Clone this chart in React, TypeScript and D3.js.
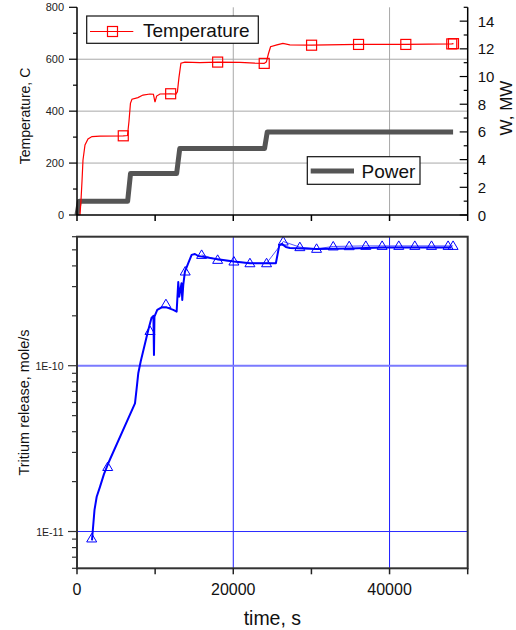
import React, { useEffect, useRef } from 'react';
import * as d3 from 'd3';

// temperature, C (red)
const tempTime = [384, 512, 640, 767, 1023, 1407, 1919, 2942, 5922, 6460, 6650, 6840, 7035, 7800, 8440, 9340, 9780, 9980, 10190, 10620, 11985, 12660, 12850, 13050, 13300, 13810, 15730, 18000, 20850, 22770, 23960, 24240, 24490, 24770, 25580, 26350, 27240, 30020, 36030, 42080, 47960, 48180];
const tempValue = [0, 58, 130, 212, 270, 293, 302, 304, 305, 306, 360, 430, 446, 452, 462, 466, 465, 435, 458, 466, 467, 466, 475, 530, 585, 589, 587, 589, 588, 585, 584, 590, 620, 648, 655, 661, 655, 654, 657, 657, 659, 660];
const tempMarkTime = [5922, 11985, 18000, 23960, 30020, 36030, 42080, 47960, 48180];
const tempMarkValue = [305, 467, 589, 584, 654, 657, 657, 659, 660];

// power, MW (grey)
const powerTime = [0, 300, 6480, 6850, 12750, 13150, 24000, 24350, 48130];
const powerValue = [0, 1, 1, 3, 3, 4.8, 4.8, 6, 6];

// tritium release, mole/s (blue)
const tritiumTime = [1920, 2010, 2240, 2520, 2940, 3450, 4000, 7420, 7610, 7840, 8150, 9120, 9530, 9780, 9850, 9910, 10270, 10830, 11470, 12320, 12750, 12960, 13080, 13370, 13470, 13600, 13810, 14240, 14670, 15090, 15510, 15990, 18000, 20080, 22130, 25450, 25900, 26220, 26730, 27240, 30660, 34920, 39180, 47920];
const tritiumValue = [8.85e-12, 1.0e-11, 1.35e-11, 1.62e-11, 1.86e-11, 2.22e-11, 2.58e-11, 5.93e-11, 7.13e-11, 9.0e-11, 1.06e-10, 1.64e-10, 1.94e-10, 2.0e-10, 1.16e-10, 1.98e-10, 2.17e-10, 2.25e-10, 2.25e-10, 2.17e-10, 2.12e-10, 3.2e-10, 2.61e-10, 3.14e-10, 2.49e-10, 3.07e-10, 3.7e-10, 4.15e-10, 4.66e-10, 4.72e-10, 4.59e-10, 4.55e-10, 4.39e-10, 4.25e-10, 4.15e-10, 4.15e-10, 5.36e-10, 5.43e-10, 5.2e-10, 5.13e-10, 5.05e-10, 5.1e-10, 5.16e-10, 5.16e-10];
const triTime = [1880, 3930, 9340, 11380, 13850, 15950, 18000, 20080, 22130, 24260, 26390, 28520, 30660, 32790, 34830, 36960, 39050, 41180, 43230, 45370, 47490, 48130];
const triValue = [9.08e-12, 2.45e-11, 1.62e-10, 2.35e-10, 3.7e-10, 4.66e-10, 4.35e-10, 4.25e-10, 4.15e-10, 4.15e-10, 5.61e-10, 5.19e-10, 5.07e-10, 5.24e-10, 5.26e-10, 5.28e-10, 5.28e-10, 5.28e-10, 5.28e-10, 5.28e-10, 5.28e-10, 5.28e-10];

const timeTicks = [0, 10000, 20000, 30000, 40000, 50000];
const timeLabels = [0, 20000, 40000];
const timeGrid = [20000, 40000];
const tempTicks = [0, 200, 400, 600, 800];
const tempMinor = [100, 300, 500, 700];
const tempGrid = [200, 400, 600];
const powerTicks = [0, 2, 4, 6, 8, 10, 12, 14];
const powerMinor = [1, 3, 5, 7, 9, 11, 13, 15];
const releaseTicks = [1e-11, 1e-10];
const releaseLabels = ['1E-11', '1E-10'];

const FONT = "'Liberation Sans', Arial, sans-serif";

const App: React.FC = () => {
  const svgRef = useRef<SVGSVGElement>(null);

  useEffect(() => {
    if (!svgRef.current) return;
    const svg = d3.select(svgRef.current);
    svg.selectAll('*').remove();
    svg.attr('font-family', FONT);

    const left = 77, right = 467.7;
    const topY0 = 215, topY1 = 7.3;
    const botY0 = 568.3, botY1 = 236.7;

    const x = d3.scaleLinear().domain([0, 50000]).range([left, right]);
    const yT = d3.scaleLinear().domain([0, 800]).range([topY0, topY1]);
    const yP = d3.scaleLinear().domain([0, 15]).range([topY0, topY1]);
    const yR = d3.scaleLog().domain([6e-12, 6e-10]).range([botY0, botY1]);

    // ---------- top panel ----------
    const top = svg.append('g');

    // grid
    top.selectAll('.hgrid').data(tempGrid).enter().append('line')
      .attr('x1', left).attr('x2', right)
      .attr('y1', d => yT(d)).attr('y2', d => yT(d))
      .attr('stroke', '#a8a8a8').attr('stroke-width', 1);
    top.selectAll('.vgrid').data(timeGrid).enter().append('line')
      .attr('x1', d => x(d)).attr('x2', d => x(d))
      .attr('y1', topY1).attr('y2', topY0)
      .attr('stroke', '#a8a8a8').attr('stroke-width', 1);

    // power
    const powerLine = d3.line<number>()
      .x((d, i) => x(powerTime[i]))
      .y(d => yP(d));
    top.append('path')
      .attr('d', powerLine(powerValue))
      .attr('fill', 'none').attr('stroke', '#555555').attr('stroke-width', 5)
      .attr('stroke-linejoin', 'round');

    // temperature
    const tempLine = d3.line<number>()
      .x((d, i) => x(tempTime[i]))
      .y(d => yT(d));
    top.append('path')
      .attr('d', tempLine(tempValue))
      .attr('fill', 'none').attr('stroke', '#ff0000').attr('stroke-width', 1.2);
    top.selectAll('.tmark').data(tempMarkValue).enter().append('rect')
      .attr('x', (d, i) => x(tempMarkTime[i]) - 5)
      .attr('y', d => yT(d) - 5)
      .attr('width', 10).attr('height', 10)
      .attr('fill', 'none').attr('stroke', '#ff0000').attr('stroke-width', 1.2);

    // axes
    top.append('line').attr('x1', left).attr('x2', left).attr('y1', topY1).attr('y2', topY0)
      .attr('stroke', '#000').attr('stroke-width', 1.5);
    top.append('line').attr('x1', right).attr('x2', right).attr('y1', topY1).attr('y2', topY0)
      .attr('stroke', '#000').attr('stroke-width', 1.5);
    top.append('line').attr('x1', left).attr('x2', right).attr('y1', topY0).attr('y2', topY0)
      .attr('stroke', '#000').attr('stroke-width', 1.5);

    top.selectAll('.tt').data(timeTicks).enter().append('line')
      .attr('x1', d => x(d)).attr('x2', d => x(d))
      .attr('y1', topY0).attr('y2', topY0 + 6)
      .attr('stroke', '#000').attr('stroke-width', 1.5);

    top.selectAll('.lt').data(tempTicks).enter().append('line')
      .attr('x1', left - 8).attr('x2', left)
      .attr('y1', d => yT(d)).attr('y2', d => yT(d))
      .attr('stroke', '#000').attr('stroke-width', 1.2);
    top.selectAll('.lm').data(tempMinor).enter().append('line')
      .attr('x1', left - 4).attr('x2', left)
      .attr('y1', d => yT(d)).attr('y2', d => yT(d))
      .attr('stroke', '#000').attr('stroke-width', 1.2);
    top.selectAll('.ll').data(tempTicks).enter().append('text')
      .attr('x', left - 13).attr('y', d => yT(d) + 4)
      .attr('text-anchor', 'end').attr('font-size', 11).attr('fill', '#222')
      .text(d => d);

    top.selectAll('.rt').data(powerTicks).enter().append('line')
      .attr('x1', right - 8).attr('x2', right)
      .attr('y1', d => yP(d)).attr('y2', d => yP(d))
      .attr('stroke', '#000').attr('stroke-width', 1.2);
    top.selectAll('.rm').data(powerMinor).enter().append('line')
      .attr('x1', right - 4).attr('x2', right)
      .attr('y1', d => yP(d)).attr('y2', d => yP(d))
      .attr('stroke', '#000').attr('stroke-width', 1.2);
    top.selectAll('.rl').data(powerTicks).enter().append('text')
      .attr('x', right + 10).attr('y', d => yP(d) + 5.5)
      .attr('text-anchor', 'start').attr('font-size', 15).attr('fill', '#111')
      .text(d => d);

    top.append('text')
      .attr('transform', 'translate(30,116) rotate(-90)')
      .attr('text-anchor', 'middle').attr('font-size', 14).attr('fill', '#111')
      .text('Temperature, C');
    top.append('text')
      .attr('transform', 'translate(511.5,108) rotate(-90)')
      .attr('text-anchor', 'middle').attr('font-size', 17).attr('fill', '#111')
      .text('W, MW');

    // legends
    const lt = top.append('g');
    lt.append('rect').attr('x', 86.7).attr('y', 16).attr('width', 171.6).attr('height', 27.3)
      .attr('fill', '#fff').attr('stroke', '#111').attr('stroke-width', 1.2);
    lt.append('line').attr('x1', 90).attr('x2', 133.3).attr('y1', 31.5).attr('y2', 31.5)
      .attr('stroke', '#ff0000').attr('stroke-width', 1.2);
    lt.append('rect').attr('x', 107.5).attr('y', 26.5).attr('width', 10).attr('height', 10)
      .attr('fill', 'none').attr('stroke', '#ff0000').attr('stroke-width', 1.2);
    lt.append('text').attr('x', 143).attr('y', 37).attr('font-size', 19).attr('fill', '#111')
      .text('Temperature');

    const lp = top.append('g');
    lp.append('rect').attr('x', 307.3).attr('y', 156.7).attr('width', 112.7).attr('height', 27.6)
      .attr('fill', '#fff').attr('stroke', '#111').attr('stroke-width', 1.2);
    lp.append('line').attr('x1', 310.7).attr('x2', 354).attr('y1', 171).attr('y2', 171)
      .attr('stroke', '#555555').attr('stroke-width', 5);
    lp.append('text').attr('x', 361.5).attr('y', 178).attr('font-size', 19).attr('fill', '#111')
      .text('Power');

    // ---------- bottom panel ----------
    const bot = svg.append('g');

    bot.selectAll('.vg').data(timeGrid).enter().append('line')
      .attr('x1', d => x(d)).attr('x2', d => x(d))
      .attr('y1', botY1).attr('y2', botY0)
      .attr('stroke', '#1a1aff').attr('stroke-width', 1);
    bot.append('line')
      .attr('x1', left).attr('x2', right).attr('y1', yR(1e-10)).attr('y2', yR(1e-10))
      .attr('stroke', '#7a7aff').attr('stroke-width', 2);
    bot.append('line')
      .attr('x1', left).attr('x2', right).attr('y1', yR(1e-11)).attr('y2', yR(1e-11))
      .attr('stroke', '#2a2aff').attr('stroke-width', 1);

    // thin line joining the plateau markers
    const plateau = triTime.map((t, i) => i).filter(i => triTime[i] >= 15000);
    const triLine = d3.line<number>()
      .x(i => x(triTime[i]))
      .y(i => yR(triValue[i]));
    bot.append('path')
      .attr('d', triLine(plateau))
      .attr('fill', 'none').attr('stroke', '#5050ff').attr('stroke-width', 1);

    const relLine = d3.line<number>()
      .x((d, i) => x(tritiumTime[i]))
      .y(d => yR(d));
    bot.append('path')
      .attr('d', relLine(tritiumValue))
      .attr('fill', 'none').attr('stroke', '#0000ff').attr('stroke-width', 2)
      .attr('stroke-linejoin', 'round');

    bot.selectAll('.tri').data(triValue).enter().append('path')
      .attr('d', (d, i) => {
        const cx = x(triTime[i]);
        const cy = yR(d);
        return `M${cx},${cy - 5}L${cx + 5},${cy + 3.5}L${cx - 5},${cy + 3.5}Z`;
      })
      .attr('fill', 'none').attr('stroke', '#0000ff').attr('stroke-width', 1);

    // frame
    bot.append('rect')
      .attr('x', left).attr('y', botY1).attr('width', right - left).attr('height', botY0 - botY1)
      .attr('fill', 'none').attr('stroke', '#333').attr('stroke-width', 2);

    // log ticks
    const logMinor: number[] = [];
    [1e-12, 1e-11, 1e-10].forEach(dec => {
      for (let k = 2; k <= 9; k++) {
        const v = k * dec;
        if (v >= 6e-12 && v <= 6e-10) logMinor.push(v);
      }
    });
    bot.selectAll('.lgm').data(logMinor).enter().append('line')
      .attr('x1', left - 5).attr('x2', left)
      .attr('y1', d => yR(d)).attr('y2', d => yR(d))
      .attr('stroke', '#333').attr('stroke-width', 1.2);
    bot.selectAll('.lgt').data(releaseTicks).enter().append('line')
      .attr('x1', left - 9).attr('x2', left)
      .attr('y1', d => yR(d)).attr('y2', d => yR(d))
      .attr('stroke', '#333').attr('stroke-width', 1.2);
    bot.selectAll('.lgl').data(releaseTicks).enter().append('text')
      .attr('x', left - 13.5).attr('y', d => yR(d) + 4)
      .attr('text-anchor', 'end').attr('font-size', 10.5).attr('fill', '#222')
      .text((d, i) => releaseLabels[i]);

    bot.selectAll('.bt').data(timeTicks).enter().append('line')
      .attr('x1', d => x(d)).attr('x2', d => x(d))
      .attr('y1', botY0).attr('y2', botY0 + 6)
      .attr('stroke', '#222').attr('stroke-width', 1.5);
    bot.selectAll('.bl').data(timeLabels).enter().append('text')
      .attr('x', d => x(d)).attr('y', 595)
      .attr('text-anchor', 'middle').attr('font-size', 16).attr('fill', '#111')
      .text(d => d);

    bot.append('text')
      .attr('x', (left + right) / 2).attr('y', 625)
      .attr('text-anchor', 'middle').attr('font-size', 19.5).attr('fill', '#111')
      .text('time, s');
    bot.append('text')
      .attr('transform', `translate(28.5,${(botY0 + botY1) / 2}) rotate(-90)`)
      .attr('text-anchor', 'middle').attr('font-size', 14.5).attr('fill', '#111')
      .text('Tritium release, mole/s');
  }, []);

  return (
    <svg ref={svgRef} width={516} height={630}
      style={{ position: 'absolute', left: 0, top: 0, background: '#fff' }} />
  );
};

export default App;
